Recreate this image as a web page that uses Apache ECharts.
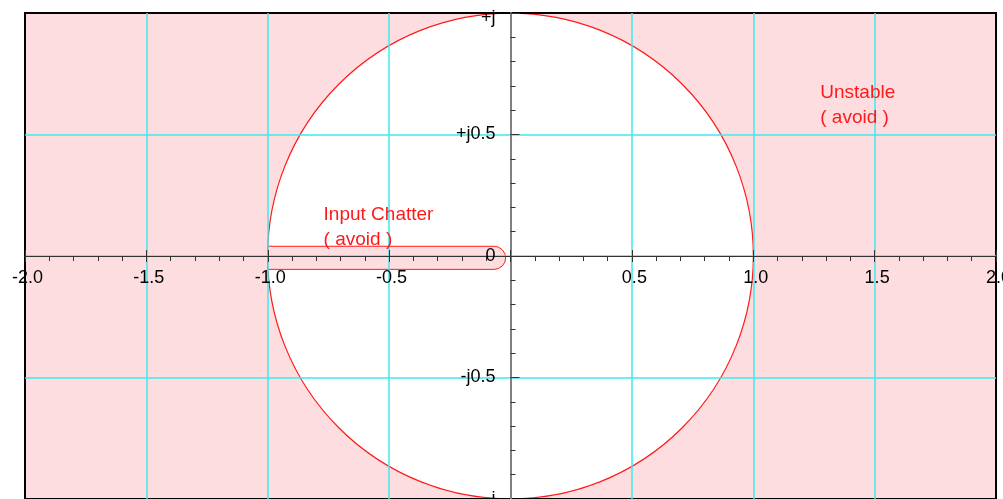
<!DOCTYPE html>
<html>
<head>
<meta charset="utf-8">
<script src="https://cdn.jsdelivr.net/npm/echarts@6/dist/echarts.min.js"></script>
<style>
  html, body { margin: 0; padding: 0; background: #fff; }
  #chart { width: 1003px; height: 499px; }
</style>
</head>
<body>
<div id="chart"></div>
<script>
// z-plane: real axis -2..2, imaginary axis -j..+j
const xTickLabels = ['-2.0', '-1.5', '-1.0', '-0.5', '', '0.5', '1.0', '1.5', '2.0'];
const yTickLabels = ['-j', '-j0.5', '0', '+j0.5', '+j'];
const xRange = [-2, 2];
const yRange = [-1, 1];
const majorStep = 0.5;

// stability boundary: centre (re, im) and radius
const unitCircle = [[0, 0, 1]];
// input-chatter band: re from, re to, im top, im bottom
const chatterBand = [[-1.0, -0.02, 0.04, -0.055]];
// annotations: first line, second line, anchor re, anchor im
const notes = [
  ['Input Chatter', '( avoid )', -0.77, 0.168],
  ['Unstable', '( avoid )', 1.276, 0.671]
];

const FONT = '"Liberation Sans", Arial, Helvetica, sans-serif';
const PINK = '#fedde0';
const RED = '#ff1a1a';
const CYAN = '#3fe9ee';
const TICK = '#333333';

const GRID = { left: 25, top: 13, width: 971, height: 486 };

const chart = echarts.init(document.getElementById('chart'), null, { renderer: 'canvas' });

function renderRegion(params, api) {
  const cs = params.coordSys;
  const c = api.coord([api.value(0), api.value(1)]);
  const s = api.size([api.value(2), api.value(2)]);
  return {
    type: 'group',
    children: [
      {
        type: 'rect',
        shape: { x: cs.x, y: cs.y, width: cs.width, height: cs.height },
        style: { fill: PINK, stroke: RED, lineWidth: 1 }
      },
      {
        type: 'circle',
        shape: { cx: c[0], cy: c[1], r: (s[0] + s[1]) / 2 },
        style: { fill: '#ffffff', stroke: RED, lineWidth: 1.2 }
      }
    ]
  };
}

function renderBand(params, api) {
  const p0 = api.coord([api.value(0), api.value(2)]);
  const p1 = api.coord([api.value(1), api.value(3)]);
  const h = p1[1] - p0[1];
  return {
    type: 'rect',
    shape: { x: p0[0], y: p0[1], width: p1[0] - p0[0], height: h, r: [0, h / 2, h / 2, 0] },
    style: { fill: PINK, stroke: RED, lineWidth: 1 }
  };
}

function renderNote(params, api) {
  const item = notes[params.dataIndex];
  const p = api.coord([api.value(2), api.value(3)]);
  const base = { fill: RED, font: '19px ' + FONT, align: 'left', verticalAlign: 'middle' };
  return {
    type: 'group',
    children: [
      { type: 'text', style: Object.assign({ x: p[0], y: p[1], text: item[0] }, base) },
      { type: 'text', style: Object.assign({ x: p[0], y: p[1] + 24.5, text: item[1] }, base) }
    ]
  };
}

const xLabel = v => xTickLabels[Math.round((v - xRange[0]) / majorStep)];
const yLabel = v => {
  const i = Math.round((v - yRange[0]) / majorStep);
  // the top label is nudged down inside the frame
  return i === yTickLabels.length - 1 ? '{top|' + yTickLabels[i] + '}' : yTickLabels[i];
};

// axes sit on the zero lines, shifted in from the grid edges
const xAxisShift = -GRID.height / 2;
const yAxisShift = -GRID.width / 2;

chart.setOption({
  animation: false,
  backgroundColor: '#ffffff',
  grid: Object.assign({
    containLabel: false, outerBoundsMode: 'none',
    show: true, borderColor: '#000000', borderWidth: 2, backgroundColor: 'transparent'
  }, GRID),
  xAxis: [
    {
      type: 'value', min: xRange[0], max: xRange[1], interval: majorStep,
      position: 'bottom', offset: xAxisShift,
      axisLine: { onZero: false, lineStyle: { color: TICK, width: 1 } },
      axisTick: { show: true, length: 6, lineStyle: { color: TICK, width: 1 } },
      minorTick: { show: true, splitNumber: 5, length: 5, lineStyle: { color: TICK, width: 1 } },
      axisLabel: {
        formatter: xLabel, fontSize: 18, color: '#000', fontFamily: FONT,
        margin: 13, padding: [0, 0, 0, 5]
      },
      splitLine: { show: true, showMinLine: false, showMaxLine: false, lineStyle: { color: CYAN, width: 1.5 } },
      minorSplitLine: { show: false }
    },
    {
      type: 'value', min: xRange[0], max: xRange[1], interval: majorStep,
      position: 'top', offset: xAxisShift,
      axisLine: { onZero: false, lineStyle: { color: TICK, width: 1 } },
      axisTick: { show: true, length: 6, lineStyle: { color: TICK, width: 1 } },
      minorTick: { show: false },
      axisLabel: { show: false },
      splitLine: { show: false }
    }
  ],
  yAxis: {
    type: 'value', min: yRange[0], max: yRange[1], interval: majorStep,
    position: 'left', offset: yAxisShift,
    axisLine: { onZero: false, lineStyle: { color: '#808080', width: 2 } },
    axisTick: { show: true, inside: true, length: 9, lineStyle: { color: TICK, width: 1 } },
    minorTick: { show: true, splitNumber: 5, length: 5, lineStyle: { color: TICK, width: 1 } },
    axisLabel: {
      formatter: yLabel, fontSize: 18, color: '#000', fontFamily: FONT, margin: 15,
      rich: { top: { fontSize: 18, fontFamily: FONT, color: '#000', padding: [10, 0, 0, 0] } }
    },
    splitLine: { show: true, showMinLine: false, showMaxLine: false, lineStyle: { color: CYAN, width: 1.5 } }
  },
  series: [
    {
      name: 'unstable region', type: 'custom', z: -2, silent: true,
      renderItem: renderRegion, data: unitCircle, encode: { x: 0, y: 1 }
    },
    {
      name: 'input chatter', type: 'custom', z: -1, silent: true,
      renderItem: renderBand, data: chatterBand, encode: { x: [0, 1], y: [2, 3] }
    },
    {
      name: 'notes', type: 'custom', z: 5, silent: true,
      renderItem: renderNote,
      data: notes.map(n => [0, 0, n[2], n[3]]),
      encode: { x: 2, y: 3 }
    }
  ]
});
</script>
</body>
</html>
